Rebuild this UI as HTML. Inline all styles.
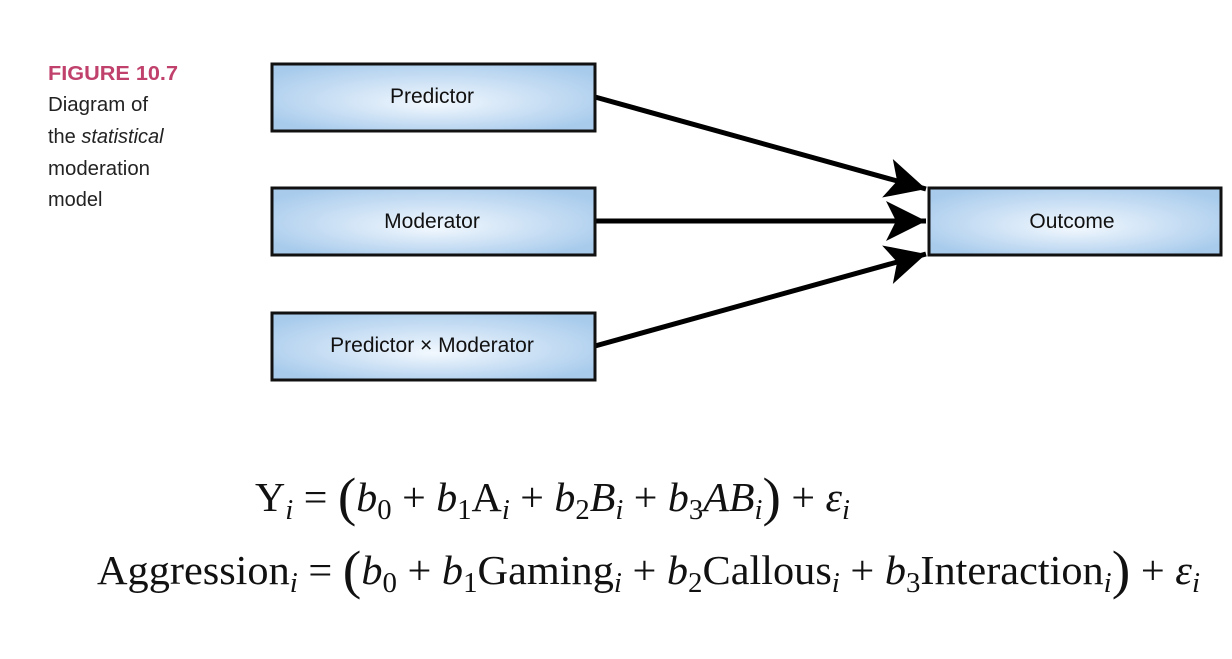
<!DOCTYPE html>
<html><head><meta charset="utf-8"><style>
html,body{margin:0;padding:0;background:#fff;}
svg{display:block;}
</style></head><body>
<svg width="1232" height="659" viewBox="0 0 1232 659" xmlns="http://www.w3.org/2000/svg">
<defs>
<radialGradient id="g" cx="50%" cy="50%" r="60%" fx="50%" fy="60%">
<stop offset="0" stop-color="#f2f8fe"/><stop offset="1" stop-color="#a8cbec"/>
</radialGradient>
<marker id="ah" viewBox="0 0 10 10" refX="10" refY="5" markerWidth="9" markerHeight="8" orient="auto" markerUnits="strokeWidth">
<path d="M0,0 L10,5 L0,10 L2.5,5 Z" fill="#000"/>
</marker>
</defs>
<g font-family="Liberation Sans, sans-serif">
<text x="48" y="80" font-size="20" font-weight="bold" fill="#c0416b" textLength="130" lengthAdjust="spacingAndGlyphs">FIGURE 10.7</text>
<text x="48" y="111" font-size="20" fill="#222" textLength="100" lengthAdjust="spacingAndGlyphs">Diagram of</text>
<text x="48" y="143" font-size="20" fill="#222">the <tspan font-style="italic">statistical</tspan></text>
<text x="48" y="175" font-size="20" fill="#222" textLength="102" lengthAdjust="spacingAndGlyphs">moderation</text>
<text x="48" y="206" font-size="20" fill="#222">model</text>
</g>
<g stroke="#000" stroke-width="5" fill="none">
<line x1="595" y1="97" x2="926" y2="189" marker-end="url(#ah)"/>
<line x1="595" y1="221" x2="926" y2="221" marker-end="url(#ah)"/>
<line x1="595" y1="346" x2="926" y2="254" marker-end="url(#ah)"/>
</g>
<g stroke="#111" stroke-width="3" fill="url(#g)">
<rect x="272" y="64" width="323" height="67"/>
<rect x="272" y="188" width="323" height="67"/>
<rect x="272" y="313" width="323" height="67"/>
<rect x="929" y="188" width="292" height="67"/>
</g>
<g font-family="Liberation Sans, sans-serif" font-size="21" fill="#111" text-anchor="middle">
<text x="432" y="103">Predictor</text>
<text x="432" y="228">Moderator</text>
<text x="432" y="352">Predictor × Moderator</text>
<text x="1072" y="228">Outcome</text>
</g>
<g font-family="Liberation Serif, serif" font-size="41" fill="#111">
<text x="255" y="511" textLength="595" lengthAdjust="spacingAndGlyphs">Y<tspan font-style="italic" font-size="28" dy="8">i</tspan><tspan dy="-8"> = </tspan><tspan font-size="54" dy="4">(</tspan><tspan font-style="italic" dy="-4">b</tspan><tspan font-size="28" dy="8">0</tspan><tspan dy="-8"> + </tspan><tspan font-style="italic">b</tspan><tspan font-size="28" dy="8">1</tspan><tspan dy="-8">A</tspan><tspan font-style="italic" font-size="28" dy="8">i</tspan><tspan dy="-8"> + </tspan><tspan font-style="italic">b</tspan><tspan font-size="28" dy="8">2</tspan><tspan font-style="italic" dy="-8">B</tspan><tspan font-style="italic" font-size="28" dy="8">i</tspan><tspan dy="-8"> + </tspan><tspan font-style="italic">b</tspan><tspan font-size="28" dy="8">3</tspan><tspan font-style="italic" dy="-8">AB</tspan><tspan font-style="italic" font-size="28" dy="8">i</tspan><tspan font-size="54" dy="-4">)</tspan><tspan dy="-4"> + </tspan><tspan font-style="italic">ε</tspan><tspan font-style="italic" font-size="28" dy="8">i</tspan></text>
<text x="97" y="584" textLength="1103" lengthAdjust="spacingAndGlyphs">Aggression<tspan font-style="italic" font-size="28" dy="8">i</tspan><tspan dy="-8"> = </tspan><tspan font-size="54" dy="4">(</tspan><tspan font-style="italic" dy="-4">b</tspan><tspan font-size="28" dy="8">0</tspan><tspan dy="-8"> + </tspan><tspan font-style="italic">b</tspan><tspan font-size="28" dy="8">1</tspan><tspan dy="-8">Gaming</tspan><tspan font-style="italic" font-size="28" dy="8">i</tspan><tspan dy="-8"> + </tspan><tspan font-style="italic">b</tspan><tspan font-size="28" dy="8">2</tspan><tspan dy="-8">Callous</tspan><tspan font-style="italic" font-size="28" dy="8">i</tspan><tspan dy="-8"> + </tspan><tspan font-style="italic">b</tspan><tspan font-size="28" dy="8">3</tspan><tspan dy="-8">Interaction</tspan><tspan font-style="italic" font-size="28" dy="8">i</tspan><tspan font-size="54" dy="-4">)</tspan><tspan dy="-4"> + </tspan><tspan font-style="italic">ε</tspan><tspan font-style="italic" font-size="28" dy="8">i</tspan></text>
</g>
</svg>
</body></html>
